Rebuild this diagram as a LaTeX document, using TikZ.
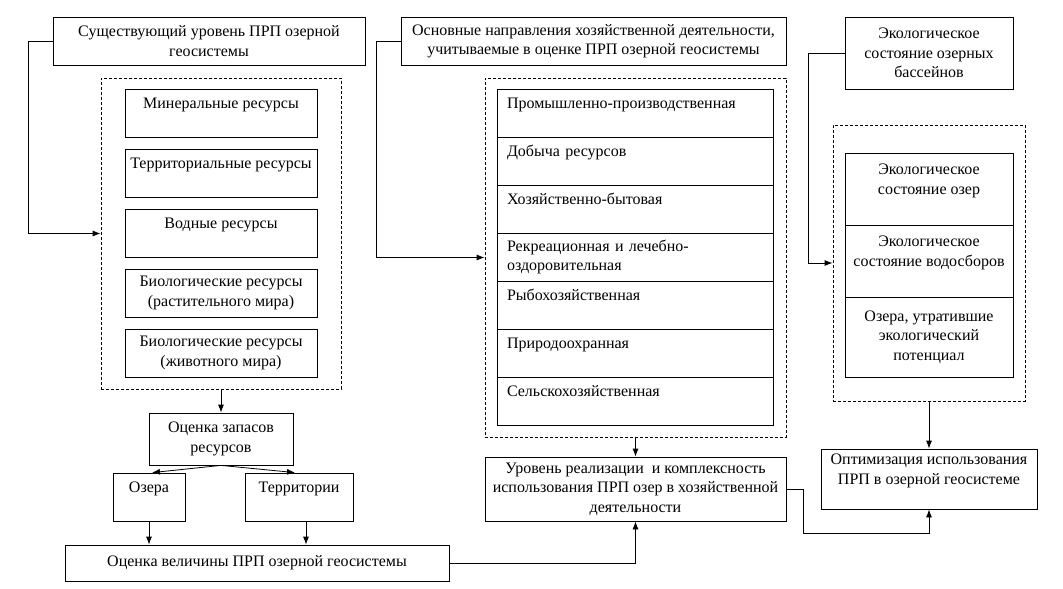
\documentclass[tikz,border=0pt]{standalone}
\usepackage{fontspec}
\setmainfont{Liberation Serif}
\usetikzlibrary{positioning,arrows.meta}

\tikzset{
  box/.style={draw, line width=0.8pt, align=center, inner sep=2pt},
  row/.style={draw, line width=0.8pt, align=left, inner xsep=10pt, text width=256pt, minimum height=48pt},
  dashbox/.style={draw, line width=0.8pt, dash pattern=on 3pt off 2pt},
  link/.style={->, line width=0.8pt}
}

\begin{document}
\begin{tikzpicture}[x=1pt, y=-1pt, >={Latex[length=8pt,width=6pt]},
  font=\fontsize{16}{19.5}\selectfont]

\useasboundingbox (0,0) rectangle (1063,589);

% headers
\node [box, minimum width=312, minimum height=48] (level) at (209,41)
  {Существующий уровень ПРП озерной\\геосистемы};
\node [box, minimum width=385, minimum height=48] (dirs) at (593.5,41)
  {Основные направления хозяйственной деятельности,\\учитываемые в оценке ПРП озерной геосистемы};
\node [box, minimum width=168, minimum height=72] (eco) at (929,53)
  {Экологическое\\состояние озерных\\бассейнов};

% dashed groups
\node [dashbox, minimum width=240, minimum height=311] (resgroup) at (221,233.5) {};
\node [dashbox, minimum width=301, minimum height=359] (dirgroup) at (635.5,257.5) {};
\node [dashbox, minimum width=192, minimum height=276] (ecogroup) at (929,263) {};

\foreach \t [count=\i] in {Минеральные ресурсы\\\mbox{}, Территориальные ресурсы\\\mbox{},
    Водные ресурсы\\\mbox{}, Биологические ресурсы\\(растительного мира),
    Биологические ресурсы\\(животного мира)}
  \node [box, minimum width=192, minimum height=48] (res-\i) at (221,53+60*\i) {\t};

\foreach \t [count=\i] in {Промышленно-производственная\\\mbox{}, Добыча ресурсов\\\mbox{},
    Хозяйственно-бытовая\\\mbox{}, Рекреационная и лечебно-\\оздоровительная,
    Рыбохозяйственная\\\mbox{}, Природоохранная\\\mbox{}, Сельскохозяйственная\\\mbox{}}
  \node [row] (dir-\i) at (635,65+48*\i) {\t};

\foreach \t/\y/\h [count=\i] in {{Экологическое\\состояние озер\\\mbox{}}/189/72,
    {Экологическое\\состояние водосборов\\\mbox{}}/261/72,
    {Озера, утратившие\\экологический\\потенциал}/337/80}
  \node [box, minimum width=168, minimum height=\h] (eco-\i) at (929,\y) {\t};

% lower part
\node [box, minimum width=144, minimum height=52] (stock) at (221,439) {Оценка запасов\\ресурсов};
\node [box, minimum width=72, minimum height=48] (lakes) at (149,497) {Озера\\\mbox{}};
\node [box, minimum width=108, minimum height=48] (terr) at (299,497) {Территории\\\mbox{}};
\node [box, minimum width=384, minimum height=36] (value) at (257,563)
  {Оценка величины ПРП озерной геосистемы};
\node [box, minimum width=301, minimum height=64] (impl) at (635.5,489)
  {Уровень реализации\ \ и комплексность\\использования ПРП озер в хозяйственной\\деятельности};
\node [box, minimum width=216, minimum height=60] (optim) at (929,479)
  {Оптимизация использования\\ПРП в озерной геосистеме\\\mbox{}};

% connectors
\draw [link] (level.west) -- ++(-24,0) |- (resgroup.west);
\draw [link] (dirs.west) -- ++(-24,0) |- (dirgroup.west);
\draw [link] (eco.west) -- ++(-36,0) |- (ecogroup.west);

\draw [link] (resgroup.south) -- (stock.north);
\draw [link] (stock.south) -- ([xshift=3]lakes.north);
\draw [link] (stock.south) -- ([xshift=-4]terr.north);
\draw [link] (lakes.south) -- (lakes.south |- value.north);
\draw [link] ([xshift=7]terr.south) -- ([xshift=7]terr.south |- value.north);
\draw [link] (value.east) -| (impl.south);

\draw [link] (dirgroup.south) -- (impl.north);
\draw [link] (ecogroup.south) -- (optim.north);
\draw [link] (impl.east) -- ++(17,0) -- ++(0,44) -| (optim.south);

\end{tikzpicture}
\end{document}
